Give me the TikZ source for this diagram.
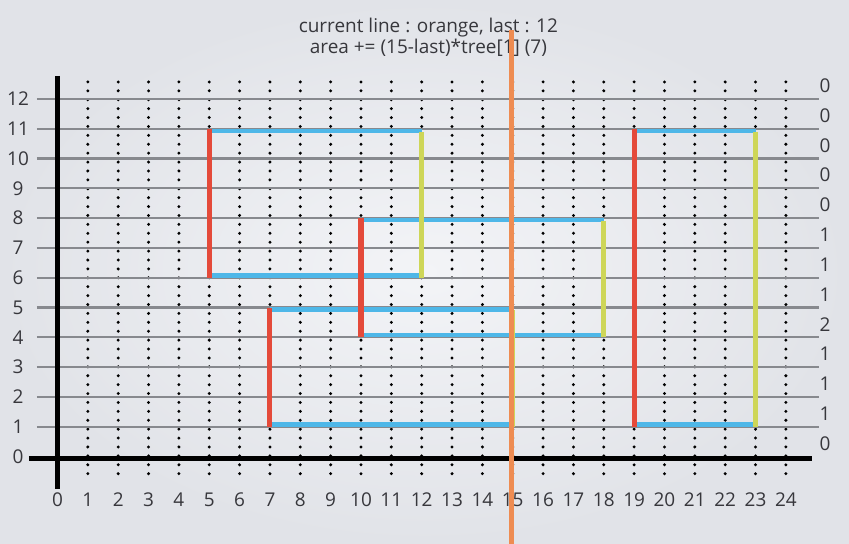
\documentclass[tikz,border=0pt]{standalone}
\usepackage{fontspec}
\setmainfont{Open Sans}
\usetikzlibrary{positioning}
\definecolor{bgin}{RGB}{243,244,247}
\definecolor{bgout}{RGB}{225,227,232}
\definecolor{gridgray}{RGB}{135,137,142}
\definecolor{openred}{RGB}{228,74,58}
\definecolor{edgeblue}{RGB}{78,183,232}
\definecolor{closeyel}{RGB}{206,214,88}
\definecolor{sweep}{RGB}{238,140,82}
\definecolor{ink}{RGB}{55,55,60}
\tikzset{
  gridln/.style={draw=gridgray,line width=1.9pt},
  axisln/.style={draw=black,line width=3.8pt},
  dotcol/.style={draw=black,line width=2.8pt,line cap=round,dash pattern=on 0pt off 7.6pt},
  openln/.style={draw=openred,line width=4.3pt},
  closeln/.style={draw=closeyel,line width=4.3pt},
  edgeln/.style={draw=edgeblue,line width=3.8pt},
  sweepln/.style={draw=sweep,line width=4.6pt},
  lbl/.style={font=\fontsize{16.2}{18}\selectfont,text=ink,inner sep=0pt},
}

\begin{document}
\begin{tikzpicture}[x=0.9105cm,y=0.894cm]
  % background
  \shade[inner color=bgin,outer color=bgout] (-1.895,-2.903) rectangle (26.08,15.32);
  \useasboundingbox (-1.895,-2.903) rectangle (26.08,15.32);
  % dotted columns and grid
  \foreach \i in {1,...,24} \draw[dotcol] (\i,12.57) -- (\i,-0.65);
  \foreach \k in {1,...,12} \draw[gridln] (-0.68,\k) -- (25.1,\k);
  \draw[axisln] (0,12.77) -- (0,-1.09);
  \draw[axisln] (-0.94,-0.07) -- (24.85,-0.07);
  % rectangles: x left / x right / y bottom / y top
  \foreach \xa/\xb/\ya/\yb in {5/12/6/11,10/18/4/8,7/15/1/5,19/23/1/11}{
    \draw[edgeln] (\xa,\yb-0.07) -- (\xb,\yb-0.07);
    \draw[edgeln] (\xa,\ya+0.07) -- (\xb,\ya+0.07);
  }
  \foreach \xa/\xb/\ya/\yb in {5/12/6/11,10/18/4/8,7/15/1/5,19/23/1/11}{
    \draw[openln] (\xa,\ya) -- (\xa,\yb);
    \draw[closeln] (\xb,\ya) -- (\xb,\yb-0.1);
  }
  % axis labels
  \foreach \k in {0,...,12} \node[lbl] (yl\k) at (-1.3,\k) {\k};
  \foreach \i in {0,...,24} \node[lbl] (xl\i) at (\i,-1.46) {\i};
  \foreach \k/\c in {12/0,11/0,10/0,9/0,8/0,7/1,6/1,5/1,4/2,3/1,2/1,1/1,0/0}
    \node[lbl] (tr\k) at (25.29,\k+0.44) {\c};
  % status text
  \node[lbl] (cur) at (12.22,14.38) {current line : orange, last : 12};
  \node[lbl] (area) at (12.22,13.71) {area += (15-last)*tree[1] (7)};
  % sweep line
  \draw[sweepln] (14.95,14.31) -- (14.95,-2.95);
\end{tikzpicture}
\end{document}
